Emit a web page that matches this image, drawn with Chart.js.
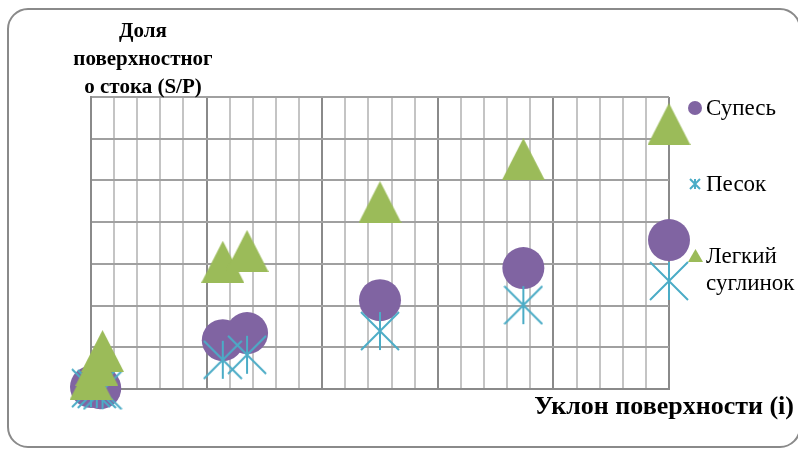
<!DOCTYPE html>
<html>
<head>
<meta charset="utf-8">
<script src="https://cdn.jsdelivr.net/npm/chart.js@4/dist/chart.umd.min.js"></script>
<style>
html,body{margin:0;padding:0;background:#fff;}
#wrap{width:798px;height:449px;position:relative;}
</style>
</head>
<body>
<div id="wrap"><canvas id="c" width="798" height="449"></canvas></div>
<script>
// ---- data ----
const seriesNames = ['Супесь', 'Песок', 'Легкий суглинок'];
const supesX = [0.0, 0.004, 0.057, 0.0675, 0.125, 0.187, 0.25];
const supesY = [0.005, 0.002, 0.117, 0.134, 0.213, 0.29, 0.357];
const pesokX = [0.0, 0.0025, 0.005, 0.057, 0.0675, 0.125, 0.187, 0.25];
const pesokY = [0.002, 0.0, -0.003, 0.07, 0.082, 0.139, 0.201, 0.259];
const suglX = [0.0, 0.0025, 0.005, 0.057, 0.0675, 0.125, 0.187, 0.25];
const suglY = [0.024, 0.058, 0.091, 0.305, 0.331, 0.448, 0.551, 0.635];
const yTitleLines = ['Доля', 'поверхностног', 'о стока (S/P)'];
const xTitle = 'Уклон поверхности (i)';

const PURPLE = '#8064A2', CYAN = '#4BACC6', GREEN = '#9BBB59';

function pts(xs, ys){ return xs.map((x,i)=>({x:x, y:ys[i]})); }

function starImg(size, lw){
  const c = document.createElement('canvas');
  c.width = size; c.height = size;
  const g = c.getContext('2d');
  g.strokeStyle = CYAN; g.lineWidth = lw;
  const m = lw/2;
  g.beginPath();
  g.moveTo(size/2, m); g.lineTo(size/2, size-m);
  g.moveTo(m, m); g.lineTo(size-m, size-m);
  g.moveTo(size-m, m); g.lineTo(m, size-m);
  g.stroke();
  return c;
}
function triImg(w, h){
  const c = document.createElement('canvas');
  c.width = w; c.height = h;
  const g = c.getContext('2d');
  g.fillStyle = GREEN;
  g.beginPath();
  g.moveTo(w/2, 0); g.lineTo(w, h); g.lineTo(0, h); g.closePath();
  g.fill();
  return c;
}
const starBig = starImg(40, 2);
const triBig = triImg(43, 42);
const starSmall = starImg(12, 2);
const triSmall = triImg(15, 13);

const framePlugin = {
  id: 'frame',
  beforeDraw(chart){
    const g = chart.ctx;
    g.save();
    g.fillStyle = '#fff';
    g.fillRect(0,0,chart.width,chart.height);
    g.strokeStyle = '#8a8a8a'; g.lineWidth = 2;
    const x=8, y=9, w=800-8, h=447-9, r=20;
    g.beginPath();
    g.moveTo(x+r, y); g.lineTo(x+w-r, y); g.arcTo(x+w, y, x+w, y+r, r);
    g.lineTo(x+w, y+h-r); g.arcTo(x+w, y+h, x+w-r, y+h, r);
    g.lineTo(x+r, y+h); g.arcTo(x, y+h, x, y+h-r, r);
    g.lineTo(x, y+r); g.arcTo(x, y, x+r, y, r);
    g.closePath(); g.stroke();
    g.restore();
  },
  afterDraw(chart){
    const g = chart.ctx;
    g.save();
    g.fillStyle = '#000';
    // y axis title
    g.font = 'bold 21px "Liberation Serif", "Times New Roman", serif';
    g.textAlign = 'center'; g.textBaseline = 'alphabetic';
    const yb = [37, 65, 93];
    yTitleLines.forEach((t,i)=> g.fillText(t, 143, yb[i]));
    // x axis title
    g.font = 'bold 26px "Liberation Serif", "Times New Roman", serif';
    g.textAlign = 'right';
    g.fillText(xTitle, 794, 414);
    // legend
    g.font = '23px "Liberation Serif", "Times New Roman", serif';
    g.textAlign = 'left'; g.textBaseline = 'middle';
    // Супесь
    g.fillStyle = PURPLE;
    g.beginPath(); g.arc(695, 108, 7, 0, Math.PI*2); g.fill();
    g.fillStyle = '#000';
    g.fillText(chart.data.datasets[0].label, 706, 109);
    // Песок
    g.drawImage(starSmall, 689, 178);
    g.fillText(chart.data.datasets[1].label, 706, 185);
    // Легкий суглинок
    g.drawImage(triSmall, 688, 249);
    const parts = chart.data.datasets[2].label.split(' ');
    g.fillText(parts[0], 706, 257);
    g.fillText(parts[1], 706, 284);
    g.restore();
  }
};

new Chart(document.getElementById('c'), {
  type: 'scatter',
  data: {
    datasets: [
      { label: seriesNames[0], data: pts(supesX, supesY), backgroundColor: PURPLE, borderColor: PURPLE,
        pointStyle: 'circle', pointRadius: 21, borderWidth: 0, order: 2, clip: false },
      { label: seriesNames[1], data: pts(pesokX, pesokY), backgroundColor: CYAN, borderColor: CYAN,
        pointStyle: starBig, pointRadius: 20, order: 1, clip: false },
      { label: seriesNames[2], data: pts(suglX, suglY), backgroundColor: GREEN, borderColor: GREEN,
        pointStyle: triBig, pointRadius: 21, order: 0, clip: false }
    ]
  },
  options: {
    responsive: false,
    animation: false,
    devicePixelRatio: 1,
    layout: { padding: { left: 91, right: 129, top: 97, bottom: 60 } },
    plugins: { legend: { display: false }, title: { display: false }, tooltip: { enabled: false } },
    scales: {
      x: {
        type: 'linear', min: 0, max: 0.25,
        ticks: { display: false, stepSize: 0.01 },
        grid: {
          drawTicks: false, lineWidth: 2,
          color: (ctx) => (ctx.index % 5 === 0 ? '#8a8a8a' : '#c4c4c4')
        },
        border: { display: true, color: '#8a8a8a', width: 2 }
      },
      y: {
        type: 'linear', min: 0, max: 0.7,
        ticks: { display: false, stepSize: 0.1 },
        grid: { drawTicks: false, lineWidth: 2, color: '#a0a0a0' },
        border: { display: true, color: '#8a8a8a', width: 2 }
      }
    }
  },
  plugins: [framePlugin]
});
</script>
</body>
</html>
